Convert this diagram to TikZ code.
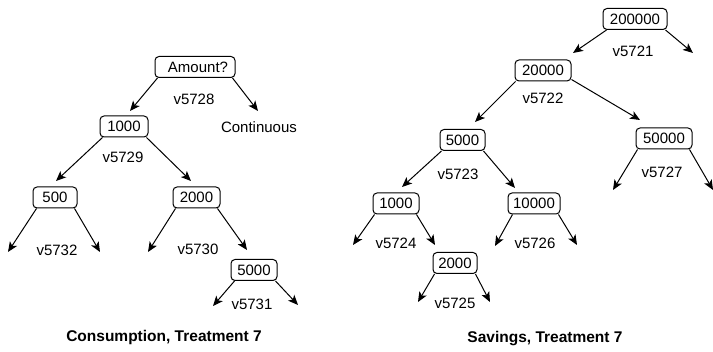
\documentclass[tikz,border=0pt]{standalone}
\usepackage{fontspec}
\setmainfont{Liberation Sans}
\usetikzlibrary{arrows.meta}
\tikzset{
  box/.style={draw, line width=1pt, rounded corners=4pt, minimum height=21pt,
    inner xsep=2pt, inner ysep=0pt, text height=10.7pt, text depth=0pt,
    font=\fontsize{15}{17}\selectfont},
  lbl/.style={inner sep=0pt, text height=10.7pt, text depth=0pt,
    font=\fontsize{15}{17}\selectfont},
  captxt/.style={inner sep=0pt, font=\fontsize{15.5}{18}\selectfont\bfseries},
  arr/.style={line width=1pt, -{Stealth[length=10pt,width=8.5pt,inset=2.5pt]}}
}
\begin{document}
\begin{tikzpicture}[x=1pt,y=-1pt]
\useasboundingbox (0,0) rectangle (713,352);
% ---------- left tree ----------
\node[box, minimum width=80pt] (amt) at (195,67) {\hspace*{6pt}Amount?};
\node[box, minimum width=48pt] (n1000) at (124,126.5) {1000};
\node[box, minimum width=44pt] (n500) at (55,197.5) {500};
\node[box, minimum width=47pt] (n2000) at (196.5,197.5) {2000};
\node[box, minimum width=46pt] (n5000) at (254,270) {5000};
\node[lbl] (v5728) at (194,99) {v5728};
\node[lbl] (cont) at (259,127) {Continuous};
\node[lbl] (v5729) at (123,157) {v5729};
\node[lbl] (v5732) at (57,250) {v5732};
\node[lbl] (v5730) at (198,249) {v5730};
\node[lbl] (v5731) at (252,304) {v5731};
\node[captxt] (capL) at (164,337) {Consumption, Treatment 7};
% ---------- right tree ----------
\node[box, minimum width=64pt] (s200000) at (635,19) {200000};
\node[box, minimum width=56pt] (s20000) at (543,70.5) {20000};
\node[box, minimum width=45pt] (s5000) at (462.5,140) {5000};
\node[box, minimum width=56pt] (s50000) at (664,138.5) {50000};
\node[box, minimum width=46pt] (s1000) at (396,203.5) {1000};
\node[box, minimum width=52pt] (s10000) at (534,203.5) {10000};
\node[box, minimum width=44pt] (s2000) at (455,263) {2000};
\node[lbl] (v5721) at (633,51) {v5721};
\node[lbl] (v5722) at (543,98) {v5722};
\node[lbl] (v5723) at (458,174) {v5723};
\node[lbl] (v5727) at (662,172) {v5727};
\node[lbl] (v5724) at (396,243) {v5724};
\node[lbl] (v5726) at (535,243) {v5726};
\node[lbl] (v5725) at (455,303) {v5725};
\node[captxt] (capR) at (545,339) {Savings, Treatment 7};
% ---------- arrow tips ----------
\coordinate (t1) at (130,111);
\coordinate (t2) at (258,111);
\coordinate (t3) at (56,181);
\coordinate (t4) at (191,181);
\coordinate (t5) at (8,252);
\coordinate (t6) at (100,252);
\coordinate (t7) at (148,252);
\coordinate (t8) at (247,250);
\coordinate (t9) at (213,306);
\coordinate (t10) at (298,305);
\coordinate (t11) at (573,53);
\coordinate (t12) at (693,53);
\coordinate (t13) at (475,122);
\coordinate (t14) at (640,120);
\coordinate (t15) at (402,187);
\coordinate (t16) at (515,188);
\coordinate (t17) at (613,190);
\coordinate (t18) at (713,190);
\coordinate (t19) at (353,245);
\coordinate (t20) at (435,245);
\coordinate (t21) at (495,246);
\coordinate (t22) at (577,245);
\coordinate (t23) at (418,302);
\coordinate (t24) at (490,302);
% ---------- arrows ----------
\draw[arr] ([xshift=3pt]amt.south west) -- (t1);
\draw[arr] ([xshift=-3pt]amt.south east) -- (t2);
\draw[arr] ([xshift=3pt]n1000.south west) -- (t3);
\draw[arr] ([xshift=-2pt]n1000.south east) -- (t4);
\draw[arr] ([xshift=4pt]n500.south west) -- (t5);
\draw[arr] ([xshift=-3pt]n500.south east) -- (t6);
\draw[arr] ([xshift=3pt]n2000.south west) -- (t7);
\draw[arr] ([xshift=-3pt]n2000.south east) -- (t8);
\draw[arr] ([xshift=4pt]n5000.south west) -- (t9);
\draw[arr] ([xshift=-2pt]n5000.south east) -- (t10);
\draw[arr] ([xshift=4pt]s200000.south west) -- (t11);
\draw[arr] ([xshift=-2pt]s200000.south east) -- (t12);
\draw[arr] ([xshift=1pt]s20000.south west) -- (t13);
\draw[arr] ([xshift=0pt,yshift=2pt]s20000.south east) -- (t14);
\draw[arr] ([xshift=2pt]s5000.south west) -- (t15);
\draw[arr] ([xshift=-2pt]s5000.south east) -- (t16);
\draw[arr] ([xshift=2pt]s50000.south west) -- (t17);
\draw[arr] ([xshift=-3pt]s50000.south east) -- (t18);
\draw[arr] ([xshift=2pt]s1000.south west) -- (t19);
\draw[arr] ([xshift=-3pt]s1000.south east) -- (t20);
\draw[arr] ([xshift=5pt]s10000.south west) -- (t21);
\draw[arr] ([xshift=-2pt]s10000.south east) -- (t22);
\draw[arr] ([xshift=2pt]s2000.south west) -- (t23);
\draw[arr] ([xshift=-2pt]s2000.south east) -- (t24);
\end{tikzpicture}
\end{document}
